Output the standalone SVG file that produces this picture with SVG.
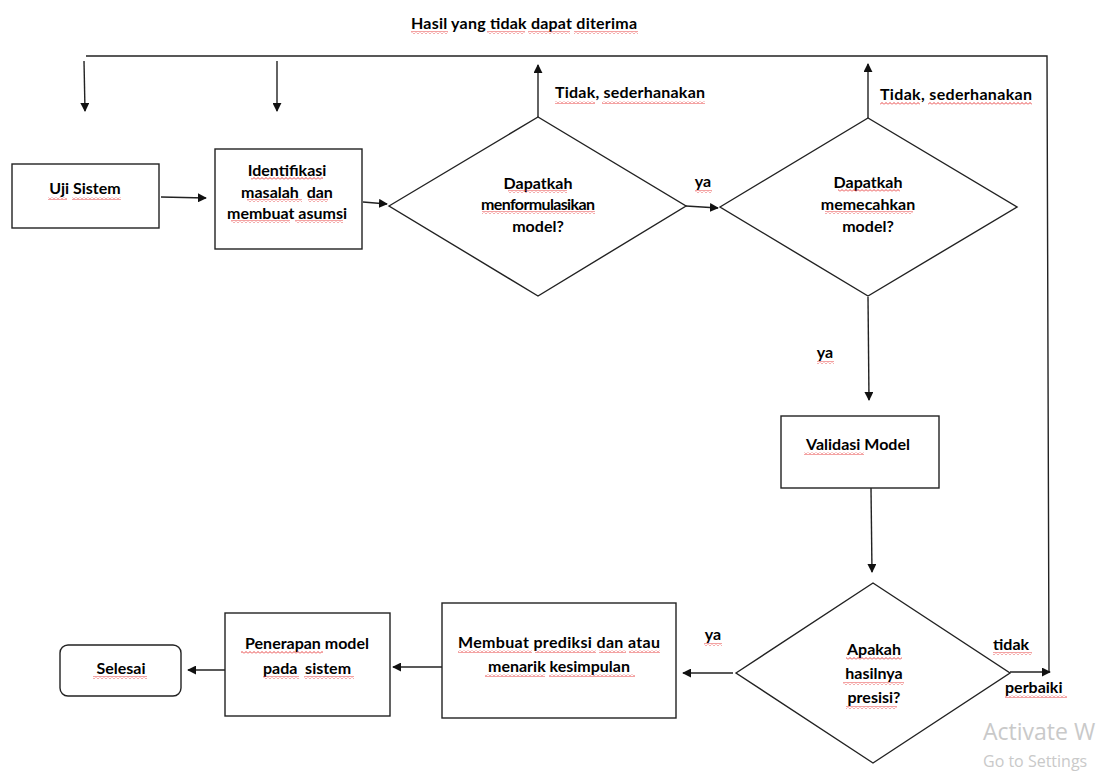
<svg xmlns="http://www.w3.org/2000/svg" width="1100" height="774" viewBox="0 0 1100 774">
<style>
  .t { font-family: Lato, "Open Sans", "Liberation Sans", sans-serif; font-weight: bold; font-size: 16px; fill: #000; }
  .c { text-anchor: middle; }
  .box { fill: #fff; stroke: #222; stroke-width: 1.4; }
  .ln { fill: none; stroke: #222; stroke-width: 1.4; }
  .wm { font-family: "Open Sans", "Liberation Sans", sans-serif; fill: #c9c9c9; }
  .sq { fill: url(#wave); }
</style>
<defs>
  <marker id="ah" viewBox="0 0 10 10" refX="9" refY="5" markerWidth="9" markerHeight="9" markerUnits="userSpaceOnUse" orient="auto">
    <path d="M0,0 L10,5 L0,10 Z" fill="#111"/>
  </marker>
  <pattern id="wave" patternUnits="userSpaceOnUse" width="4" height="3">
    <path d="M0,2.5 L2,0.5 L4,2.5" fill="none" stroke="#e53030" stroke-width="0.9"/>
  </pattern>
</defs>
<rect width="1100" height="774" fill="#fff"/>

<g id="connectors">
  <polyline class="ln" points="86,56 1047,56 1049,672"/>
  <line class="ln" x1="84" y1="61" x2="85" y2="111" marker-end="url(#ah)"/>
  <line class="ln" x1="277" y1="61" x2="277" y2="111" marker-end="url(#ah)"/>
  <line class="ln" x1="161" y1="197" x2="206" y2="198" marker-end="url(#ah)"/>
  <line class="ln" x1="363" y1="202" x2="387" y2="204" marker-end="url(#ah)"/>
  <line class="ln" x1="538" y1="117" x2="538" y2="65" marker-end="url(#ah)"/>
  <line class="ln" x1="686" y1="206" x2="718" y2="208" marker-end="url(#ah)"/>
  <line class="ln" x1="868" y1="118" x2="868" y2="64" marker-end="url(#ah)"/>
  <line class="ln" x1="868" y1="297" x2="869" y2="400" marker-end="url(#ah)"/>
  <line class="ln" x1="871" y1="488" x2="872" y2="572" marker-end="url(#ah)"/>
  <line class="ln" x1="733" y1="673" x2="683" y2="673" marker-end="url(#ah)"/>
  <line class="ln" x1="442" y1="667" x2="393" y2="667" marker-end="url(#ah)"/>
  <line class="ln" x1="226" y1="670" x2="188" y2="670" marker-end="url(#ah)"/>
  <line class="ln" x1="1010" y1="672" x2="1050" y2="672" marker-end="url(#ah)"/>
  <text class="t" x="411" y="29" textLength="226">Hasil yang tidak dapat diterima</text>
  <text class="t" x="555" y="98" textLength="150">Tidak, sederhanakan</text>
  <text class="t" x="880" y="100" textLength="152">Tidak, sederhanakan</text>
  <text class="t c" x="703" y="187">ya</text>
  <text class="t c" x="825" y="358">ya</text>
  <text class="t c" x="713" y="640">ya</text>
  <text class="t" x="993" y="650">tidak</text>
  <text class="t" x="1005" y="693">perbaiki</text>
  <rect class="sq" x="411" y="31" width="37" height="3"/>
  <rect class="sq" x="487" y="31" width="38" height="3"/>
  <rect class="sq" x="528" y="31" width="42" height="3"/>
  <rect class="sq" x="574" y="31" width="64" height="3"/>
  <rect class="sq" x="555" y="101" width="40" height="3"/>
  <rect class="sq" x="602" y="101" width="103" height="3"/>
  <rect class="sq" x="880" y="102" width="40" height="3"/>
  <rect class="sq" x="928" y="102" width="104" height="3"/>
  <rect class="sq" x="695" y="190" width="17" height="3"/>
  <rect class="sq" x="817" y="361" width="17" height="3"/>
  <rect class="sq" x="704" y="643" width="18" height="3"/>
  <rect class="sq" x="993" y="652" width="39" height="3"/>
  <rect class="sq" x="1005" y="695" width="62" height="3"/>
</g>

<g id="uji-sistem">
  <rect class="box" x="12" y="164" width="147" height="64"/>
  <text class="t c" x="85" y="194">Uji Sistem</text>
  <rect class="sq" x="48" y="197" width="19" height="3"/>
  <rect class="sq" x="72" y="197" width="49" height="3"/>
</g>

<g id="identifikasi">
  <rect class="box" x="215" y="149" width="147" height="100"/>
  <text class="t c" x="287" y="176">Identifikasi</text>
  <text class="t c" x="287" y="198" xml:space="preserve">masalah  dan</text>
  <text class="t c" x="287" y="219">membuat asumsi</text>
  <rect class="sq" x="251" y="177" width="72" height="3"/>
  <rect class="sq" x="247" y="199" width="55" height="3"/>
  <rect class="sq" x="308" y="199" width="20" height="3"/>
  <rect class="sq" x="231" y="220" width="59" height="3"/>
  <rect class="sq" x="295" y="220" width="48" height="3"/>
</g>

<g id="formulasi">
  <polygon class="box" points="389,206 538,117 686,206 538,296"/>
  <text class="t c" x="538" y="189">Dapatkah</text>
  <text class="t c" x="538" y="210" textLength="114">menformulasikan</text>
  <text class="t c" x="538" y="232">model?</text>
  <rect class="sq" x="508" y="190" width="59" height="3"/>
  <rect class="sq" x="482" y="211" width="113" height="3"/>
</g>

<g id="memecahkan">
  <polygon class="box" points="720,207 868,118 1017,207 868,296"/>
  <text class="t c" x="868" y="188">Dapatkah</text>
  <text class="t c" x="868" y="210">memecahkan</text>
  <text class="t c" x="868" y="232">model?</text>
  <rect class="sq" x="838" y="189" width="62" height="3"/>
  <rect class="sq" x="825" y="211" width="88" height="3"/>
</g>

<g id="validasi">
  <rect class="box" x="781" y="416" width="158" height="72"/>
  <text class="t c" x="858" y="450">Validasi Model</text>
  <rect class="sq" x="804" y="452" width="60" height="3"/>
</g>

<g id="presisi">
  <polygon class="box" points="736,673 873,583 1010,673 873,763"/>
  <text class="t c" x="874" y="655">Apakah</text>
  <text class="t c" x="874" y="679">hasilnya</text>
  <text class="t c" x="874" y="703">presisi?</text>
  <rect class="sq" x="846" y="657" width="56" height="3"/>
  <rect class="sq" x="843" y="682" width="61" height="3"/>
  <rect class="sq" x="846" y="706" width="51" height="3"/>
</g>

<g id="prediksi">
  <rect class="box" x="442" y="603" width="234" height="115"/>
  <text class="t c" x="559" y="648" textLength="202">Membuat prediksi dan atau</text>
  <text class="t c" x="559" y="672">menarik kesimpulan</text>
  <rect class="sq" x="458" y="650" width="74" height="3"/>
  <rect class="sq" x="535" y="650" width="61" height="3"/>
  <rect class="sq" x="599" y="650" width="27" height="3"/>
  <rect class="sq" x="629" y="650" width="31" height="3"/>
  <rect class="sq" x="485" y="674" width="60" height="3"/>
  <rect class="sq" x="549" y="674" width="86" height="3"/>
</g>

<g id="penerapan">
  <rect class="box" x="225" y="613" width="165" height="103"/>
  <text class="t c" x="307" y="649">Penerapan model</text>
  <text class="t c" x="307" y="674" xml:space="preserve">pada  sistem</text>
  <rect class="sq" x="241" y="651" width="82" height="3"/>
  <rect class="sq" x="263" y="676" width="36" height="3"/>
  <rect class="sq" x="304" y="676" width="50" height="3"/>
</g>

<g id="selesai">
  <rect class="box" x="60" y="645" width="121" height="51" rx="8" ry="8"/>
  <text class="t c" x="121" y="674">Selesai</text>
  <rect class="sq" x="93" y="676" width="54" height="3"/>
</g>

<text class="wm" x="983" y="740" font-size="23">Activate W</text>
<text class="wm" x="983" y="767" font-size="16">Go to Settings</text>
</svg>
